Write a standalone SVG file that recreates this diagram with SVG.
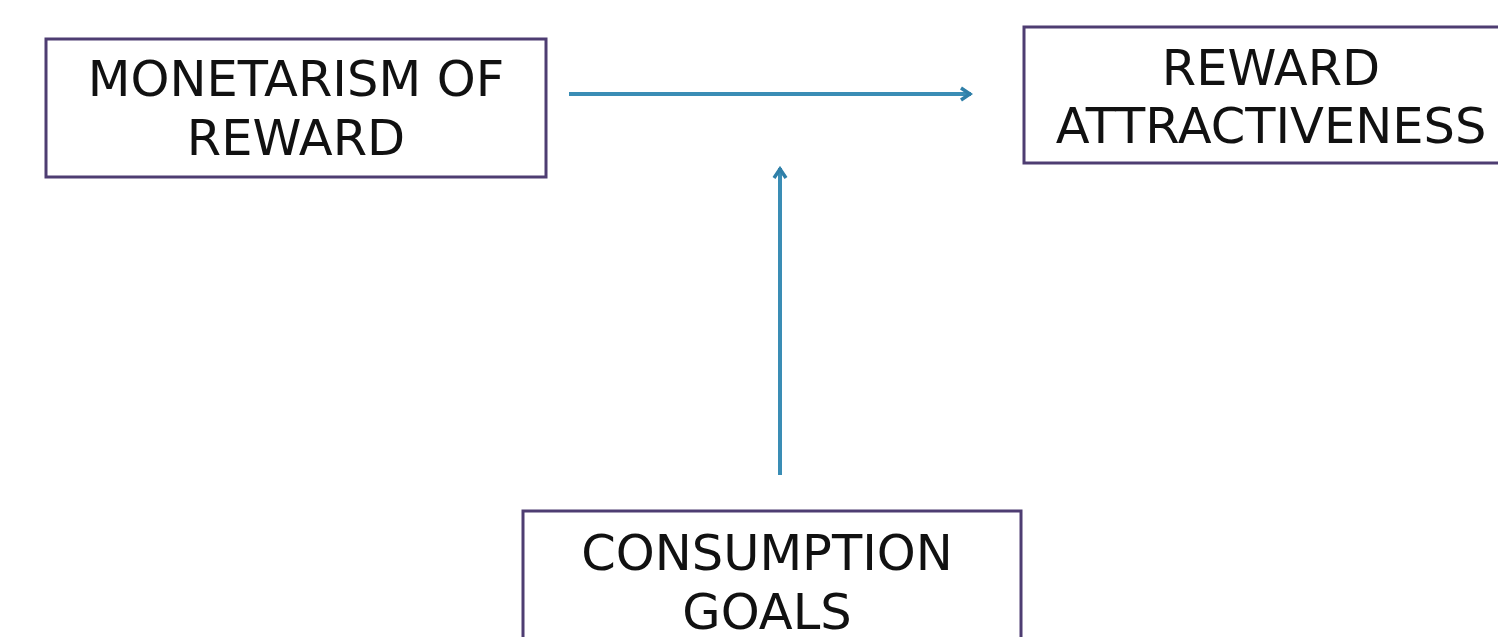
<svg xmlns="http://www.w3.org/2000/svg" width="1498" height="637" viewBox="0 0 1498 637">
<style>
.box{fill:#ffffff;stroke:#4e3d72;stroke-width:3}
.lbl{font-family:"DejaVu Sans",Verdana,sans-serif;font-size:49.5px;fill:#111111;text-anchor:middle}
.con{stroke:#3a8db5;stroke-width:4;fill:none}
</style>
<defs>
<marker id="ah" viewBox="0 0 16 16" refX="14" refY="8" markerWidth="16" markerHeight="16" markerUnits="userSpaceOnUse" orient="auto">
<path d="M4,2 L13,8 L4,14" fill="none" stroke="#2f7fa8" stroke-width="3.5"/>
</marker>
</defs>
<rect width="1498" height="637" fill="#ffffff"/>
<g id="monetarism">
<rect class="box" x="46" y="39" width="500" height="138"/>
<text class="lbl" x="296" y="96">MONETARISM OF</text>
<text class="lbl" x="296" y="155">REWARD</text>
</g>
<g id="attractiveness">
<rect class="box" x="1024" y="27" width="500" height="136"/>
<text class="lbl" x="1271" y="85">REWARD</text>
<text class="lbl" x="1271" y="143">ATTRACTIVENESS</text>
</g>
<g id="consumption">
<rect class="box" x="523" y="511" width="498" height="140"/>
<text class="lbl" x="767" y="570">CONSUMPTION</text>
<text class="lbl" x="767" y="629">GOALS</text>
</g>
<g id="connectors">
<line class="con" x1="569" y1="94" x2="971" y2="94" marker-end="url(#ah)"/>
<line class="con" x1="780" y1="475" x2="780" y2="168" marker-end="url(#ah)"/>
</g>
</svg>
